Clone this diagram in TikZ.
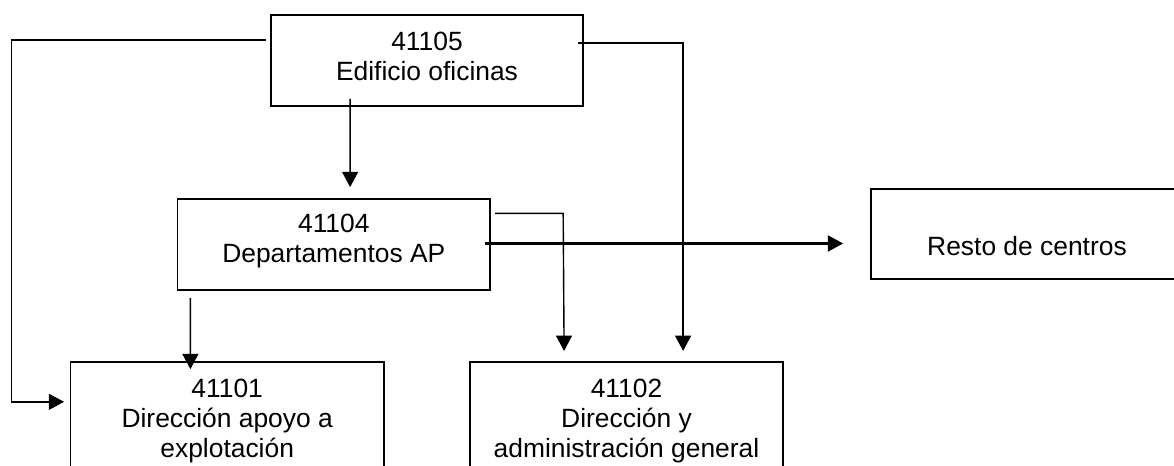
\documentclass[tikz,border=0pt]{standalone}
\usepackage{fontspec}
\setmainfont{Liberation Sans}
\usetikzlibrary{arrows.meta,calc}
\tikzset{
  box/.style={draw=black, line width=1.3pt, rectangle, inner sep=0pt},
  txt/.style={font=\fontsize{19.8pt}{22.5pt}\selectfont, align=center, inner sep=0pt, anchor=north, text=black},
  conn/.style={draw=black, line width=1.2pt},
  arr/.style={conn, -{Triangle[length=11.5pt, width=12pt]}}
}
\begin{document}
\begin{tikzpicture}[x=0.75pt, y=-0.75pt]
\clip (0,0) rectangle (1174,466);
\fill[white] (0,0) rectangle (1174,466);
% boxes
\node[box, minimum width=234pt, minimum height=68.25pt] (b105) at (427,60.5) {};
\node[box, minimum width=234.3pt, minimum height=68.25pt] (b104) at (333.8,244.5) {};
\node[box, minimum width=234pt, minimum height=67.5pt] (resto) at (1027,234.3) {};
\node[box, minimum width=235.1pt, minimum height=90pt] (b101) at (227.2,422.3) {};
\node[box, minimum width=234.8pt, minimum height=90pt] (b102) at (626.5,422.3) {};
% texts
\node[txt] (t105) at ($(b105.north)+(0,17.8)$) {41105\\Edificio oficinas};
\node[txt] (t104) at ($(b104.north)+(0,15.4)$) {41104\\Departamentos AP};
\node[txt] (tresto) at ($(resto.north)+(0,47.8)$) {Resto de centros};
\node[txt] (t101) at ($(b101.north)+(0,17)$) {41101\\Dirección apoyo a\\explotación};
\node[txt] (t102) at ($(b102.north)+(0,17)$) {41102\\Dirección y\\administración general};
% connectors
\draw[arr] ($(b105.north west)+(-4,25.7)$) -| ($(b101.north west)+(-58.2,40.4)$) -- ($(b101.north west)+(-5.5,40.4)$);
\draw[arr] ($(b105.north east)+(-6,29)$) -| ($(b102.north west)+(214,-10.5)$);
\draw[arr] ($(b105.south west)+(80,-8)$) -- ($(b104.north west)+(173.4,-11)$);
\draw[arr, line width=1.05pt] ($(b104.north east)+(4.3,15.3)$) -- ++(68,0) -- ($(b102.north west)+(95,-10.5)$);
\draw[arr, line width=1.6pt] ($(b104.east)+(-6,-1)$) -- ($(resto.west |- b104.east)+(-27,-1)$);
\draw[arr] ($(b104.south west)+(13.7,7)$) -- ($(b101.north west)+(120.8,7.7)$);
\end{tikzpicture}
\end{document}
